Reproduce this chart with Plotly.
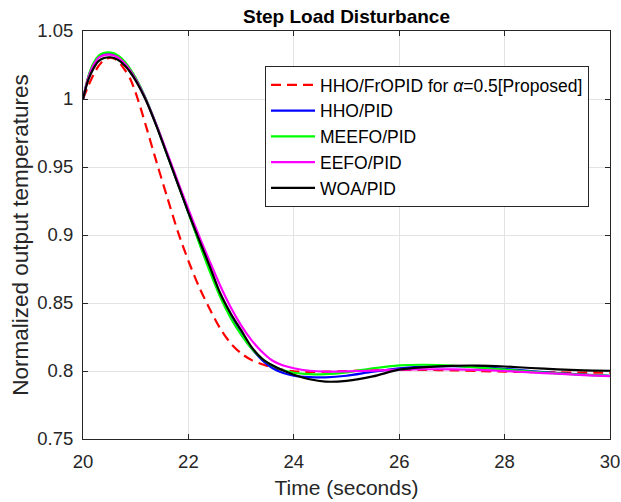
import plotly.graph_objects as go

# Time samples (seconds)
time = [20.0, 20.1, 20.2, 20.3, 20.4, 20.5, 20.6, 20.7, 20.8, 20.9, 21.0, 21.1, 21.2,
        21.4, 21.6, 21.8, 22.0, 22.2, 22.4, 22.6, 22.8, 23.0, 23.2, 23.4, 23.6, 23.8,
        24.0, 24.3, 24.6, 25.0, 25.5, 26.0, 26.5, 27.0, 27.5, 28.0, 28.5, 29.0, 29.5, 30.0]

hho_fropid = [1.0000, 1.0095, 1.0180, 1.0245, 1.0288, 1.0303, 1.0295, 1.0262, 1.0210, 1.0145,
              1.0045, 0.9925, 0.9795, 0.9530, 0.9275, 0.9025, 0.8810, 0.8620, 0.8460, 0.8315,
              0.8205, 0.8130, 0.8080, 0.8050, 0.8025, 0.8008, 0.7998, 0.7993, 0.7995, 0.8000,
              0.8005, 0.8008, 0.8008, 0.8005, 0.8000, 0.7995, 0.7992, 0.7990, 0.7988, 0.7987]

hho_pid = [1.0000, 1.0160, 1.0258, 1.0312, 1.0332, 1.0335, 1.0327, 1.0302, 1.0263, 1.0212,
           1.0150, 1.0077, 0.9993, 0.9800, 0.9590, 0.9380, 0.9168, 0.8955, 0.8752, 0.8558,
           0.8400, 0.8272, 0.8165, 0.8080, 0.8020, 0.7985, 0.7965, 0.7955, 0.7953, 0.7965,
           0.7995, 0.8020, 0.8032, 0.8035, 0.8028, 0.8015, 0.8000, 0.7985, 0.7973, 0.7965]

meefo_pid = [1.0000, 1.0165, 1.0265, 1.0320, 1.0340, 1.0343, 1.0335, 1.0310, 1.0270, 1.0218,
             1.0155, 1.0080, 0.9995, 0.9800, 0.9590, 0.9378, 0.9165, 0.8945, 0.8738, 0.8548,
             0.8392, 0.8267, 0.8165, 0.8090, 0.8038, 0.8005, 0.7987, 0.7977, 0.7977, 0.7990,
             0.8020, 0.8042, 0.8046, 0.8040, 0.8025, 0.8010, 0.7995, 0.7982, 0.7972, 0.7965]

eefo_pid = [1.0000, 1.0155, 1.0250, 1.0305, 1.0323, 1.0326, 1.0318, 1.0295, 1.0257, 1.0207,
            1.0145, 1.0072, 0.9990, 0.9802, 0.9600, 0.9393, 0.9190, 0.8995, 0.8810, 0.8630,
            0.8470, 0.8335, 0.8225, 0.8140, 0.8075, 0.8040, 0.8020, 0.8002, 0.7995, 0.7997,
            0.8003, 0.8010, 0.8013, 0.8012, 0.8008, 0.8000, 0.7990, 0.7980, 0.7970, 0.7962]

woa_pid = [1.0000, 1.0140, 1.0225, 1.0280, 1.0301, 1.0307, 1.0300, 1.0278, 1.0242, 1.0195,
           1.0135, 1.0065, 0.9985, 0.9795, 0.9585, 0.9375, 0.9165, 0.8968, 0.8775, 0.8575,
           0.8425, 0.8300, 0.8175, 0.8090, 0.8040, 0.8003, 0.7973, 0.7939, 0.7922, 0.7928,
           0.7960, 0.8010, 0.8028, 0.8038, 0.8040, 0.8033, 0.8022, 0.8012, 0.8005, 0.8002]

series_names = ["HHO/FrOPID for <i>α</i>=0.5[Proposed]", "HHO/PID", "MEEFO/PID", "EEFO/PID", "WOA/PID"]
series_values = [hho_fropid, hho_pid, meefo_pid, eefo_pid, woa_pid]
series_colors = ["#ff0000", "#0000ff", "#00ff00", "#ff00ff", "#000000"]
series_dash = ["10px,6px", "solid", "solid", "solid", "solid"]

x_ticks = [20, 22, 24, 26, 28, 30]
y_ticks = [0.75, 0.8, 0.85, 0.9, 0.95, 1.0, 1.05]
y_tick_labels = ["0.75", "0.8", "0.85", "0.9", "0.95", "1", "1.05"]

FONT = "Liberation Sans, Arial, Helvetica"

fig = go.Figure()
for name, vals, col, dash in zip(series_names, series_values, series_colors, series_dash):
    fig.add_trace(go.Scatter(
        x=time, y=vals, mode="lines", name=name,
        line=dict(color=col, width=2.2, dash=dash, shape="spline", smoothing=0.8),
    ))

axis_common = dict(
    showline=True, linecolor="#262626", linewidth=1, mirror="ticks",
    ticks="inside", ticklen=5, tickcolor="#262626",
    showgrid=True, gridcolor="#e3e3e3", gridwidth=1, zeroline=False,
    tickfont=dict(family=FONT, size=18.5, color="#262626"),
)

W, H = 621, 502
L, R, T, B = 83, 11, 31, 63
pw, ph = W - L - R, H - T - B

fig.update_layout(
    width=W, height=H,
    paper_bgcolor="white", plot_bgcolor="white",
    margin=dict(l=L, r=R, t=T, b=B, autoexpand=False),
    title=dict(text="<b>Step Load Disturbance</b>", xref="paper", x=0.5, xanchor="center",
               yref="container", y=1 - 16 / H, yanchor="middle",
               font=dict(family=FONT, size=19, color="#000000")),
    showlegend=True,
    legend=dict(
        x=(265 - L) / pw, y=1 - (66 - T) / ph, xanchor="left", yanchor="top",
        bgcolor="white", bordercolor="#262626", borderwidth=1,
        font=dict(family=FONT, size=17.5, color="#000000"),
        tracegroupgap=0, itemwidth=44,
    ),
)
fig.update_xaxes(range=[20, 30], tickvals=x_ticks, ticklabelstandoff=6,
                 title=dict(text="Time (seconds)", standoff=9,
                            font=dict(family=FONT, size=21, color="#262626")),
                 **axis_common)
fig.update_yaxes(range=[0.75, 1.05], tickvals=y_ticks, ticktext=y_tick_labels, ticklabelstandoff=5,
                 title=dict(text="Normalized output temperatures", standoff=2,
                            font=dict(family=FONT, size=22.5, color="#262626")),
                 **axis_common)

# Remove the browser's default 8px body margin so the figure fills the window exactly.
fig.write_html("out.html", config={"displayModeBar": False},
               post_script="document.body.style.margin='0px';")
